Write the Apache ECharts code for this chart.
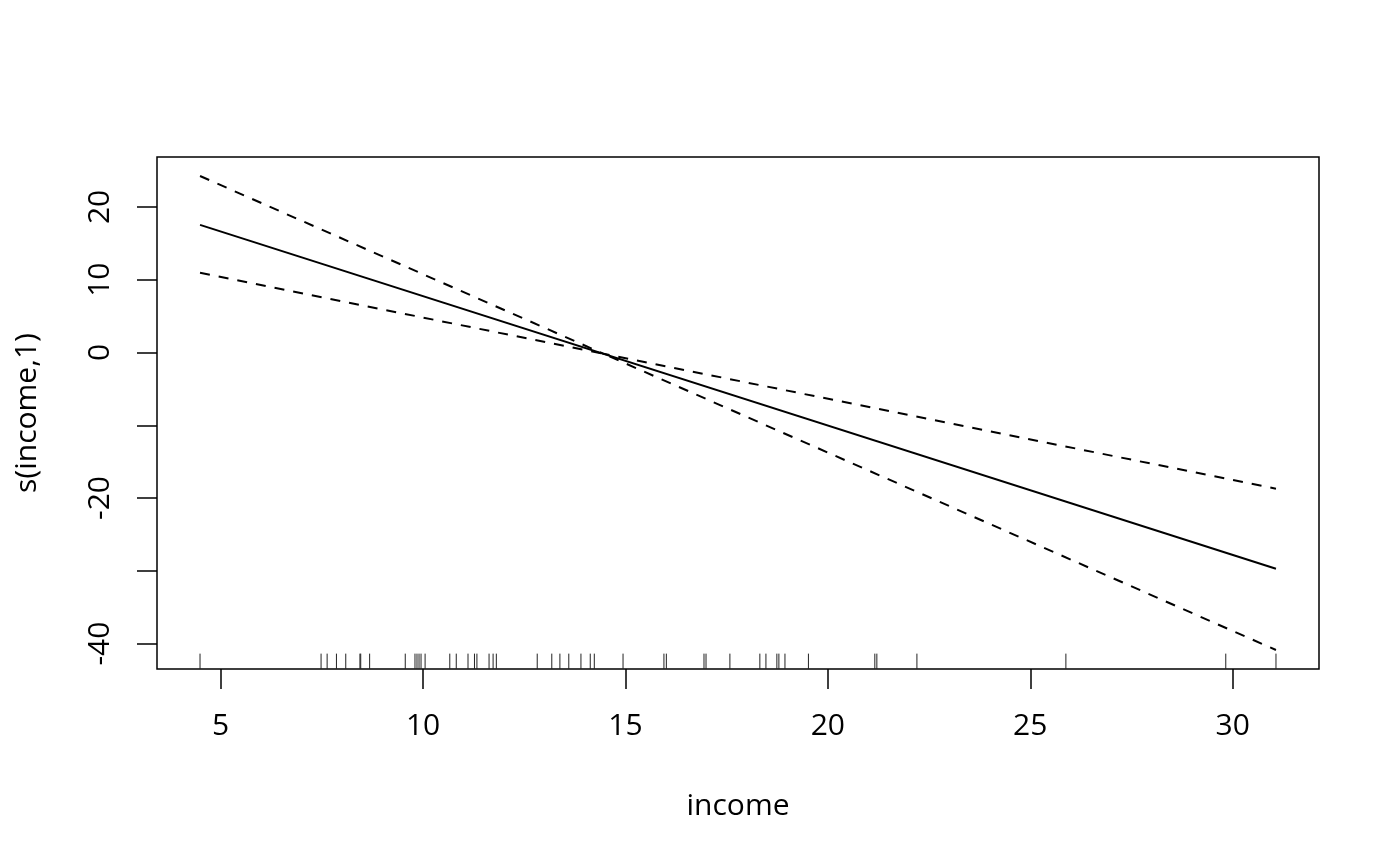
<!DOCTYPE html>
<html>
<head>
<meta charset="utf-8">
<script src="https://cdn.jsdelivr.net/npm/echarts@6/dist/echarts.min.js"></script>
<style>
html,body{margin:0;padding:0;background:#fff;}
#chart{width:1400px;height:866px;}
</style>
</head>
<body>
<div id="chart"></div>
<script>
// Data
const fitX = [4.49, 31.07];
const fitY = [17.53, -29.72];
const bandX = [4.49, 14.46, 31.07];
const upperY = [24.25, -0.18, -18.71];
const lowerY = [10.95, -0.18, -40.88];
const incomeRug = [4.49, 7.48, 7.63, 7.86, 8.09, 8.44, 8.46, 8.68, 9.56, 9.80, 9.85, 9.90, 9.95, 10.05,
  10.66, 10.82, 11.11, 11.27, 11.33, 11.63, 11.73, 11.81, 12.82, 13.18, 13.38, 13.60, 13.90, 14.13,
  14.23, 14.94, 15.95, 16.01, 16.94, 16.99, 17.58, 18.32, 18.47, 18.74, 18.79, 18.94, 19.52, 21.16,
  21.21, 22.20, 25.88, 29.83, 31.07];
const xTicks = [5, 10, 15, 20, 25, 30];
const yTicks = [-40, -30, -20, -10, 0, 10, 20];
const yTickLabels = [-40, -20, 0, 10, 20];
const xName = 'income';
const yName = 's(income,1)';

const xMin = 3.427, xMax = 32.133;
const yMin = -43.49, yMax = 26.86;

const FONT = 'Open Sans';
const chart = echarts.init(document.getElementById('chart'));
const zip = (xs, ys) => xs.map((x, i) => [x, ys[i]]);

chart.setOption({
  animation: false,
  backgroundColor: '#fff',
  grid: {
    left: 157, right: 81, top: 157, bottom: 197,
    show: true, borderColor: '#000', borderWidth: 1.5, backgroundColor: 'transparent'
  },
  xAxis: {
    type: 'value', min: xMin, max: xMax,
    name: xName, nameLocation: 'middle', nameGap: 122,
    nameTextStyle: { color: '#000', fontFamily: FONT, fontSize: 30 },
    axisLine: { show: false, onZero: false },
    splitLine: { show: false },
    axisTick: { show: true, inside: false, length: 20, customValues: xTicks,
      lineStyle: { color: '#000', width: 1.5 } },
    axisLabel: { show: true, customValues: xTicks, margin: 42, color: '#000',
      fontFamily: FONT, fontSize: 30 }
  },
  yAxis: {
    type: 'value', min: yMin, max: yMax,
    name: yName, nameLocation: 'middle', nameGap: 115, nameRotate: 90,
    nameTextStyle: { color: '#000', fontFamily: FONT, fontSize: 30 },
    axisLine: { show: false, onZero: false },
    splitLine: { show: false },
    axisTick: { show: true, inside: false, length: 20, customValues: yTicks,
      lineStyle: { color: '#000', width: 1.5 } },
    axisLabel: { show: true, customValues: yTickLabels, rotate: 90, margin: 42, color: '#000',
      fontFamily: FONT, fontSize: 30 }
  },
  series: [
    {
      type: 'line', data: zip(fitX, fitY), showSymbol: false, symbol: 'none',
      lineStyle: { color: '#000', width: 2 }
    },
    {
      type: 'line', data: zip(bandX, upperY), showSymbol: false, symbol: 'none',
      lineStyle: { color: '#000', width: 2, type: [10, 9] }
    },
    {
      type: 'line', data: zip(bandX, lowerY), showSymbol: false, symbol: 'none',
      lineStyle: { color: '#000', width: 2, type: [10, 9] }
    },
    {
      type: 'custom',
      data: incomeRug.map(v => [v]),
      encode: { x: 0 },
      renderItem: function (params, api) {
        const x = api.value(0);
        const p0 = api.coord([x, yMin]);
        const p1 = api.coord([x, yMin + 0.03 * (yMax - yMin)]);
        return {
          type: 'line',
          shape: { x1: p0[0], y1: p0[1], x2: p1[0], y2: p1[1] },
          style: { stroke: '#222', lineWidth: 1 }
        };
      }
    }
  ]
});
</script>
</body>
</html>
